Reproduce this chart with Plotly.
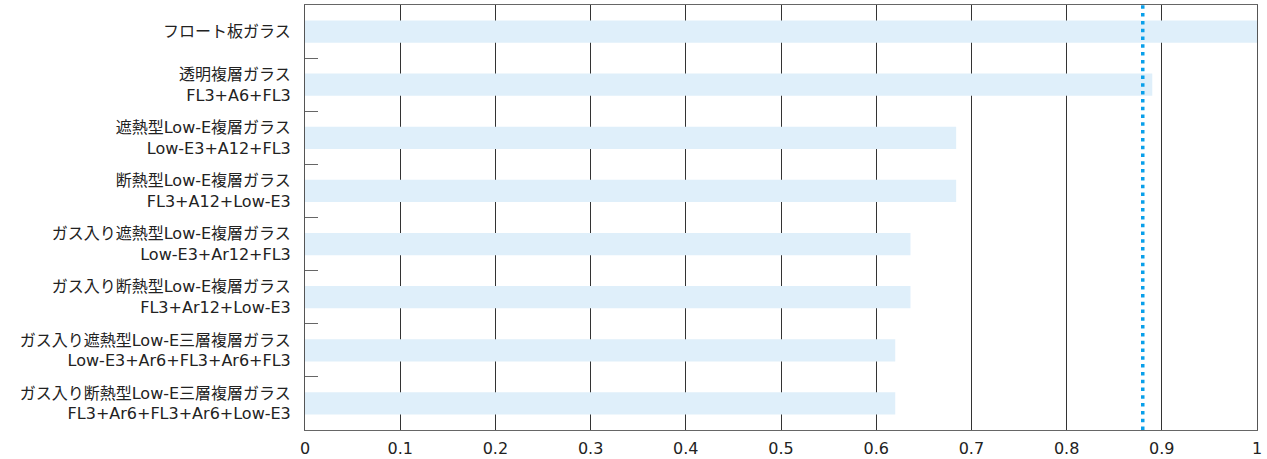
import plotly.graph_objects as go

categories = [
    "フロート板ガラス",
    "透明複層ガラス<br>FL3+A6+FL3",
    "遮熱型Low-E複層ガラス<br>Low-E3+A12+FL3",
    "断熱型Low-E複層ガラス<br>FL3+A12+Low-E3",
    "ガス入り遮熱型Low-E複層ガラス<br>Low-E3+Ar12+FL3",
    "ガス入り断熱型Low-E複層ガラス<br>FL3+Ar12+Low-E3",
    "ガス入り遮熱型Low-E三層複層ガラス<br>Low-E3+Ar6+FL3+Ar6+FL3",
    "ガス入り断熱型Low-E三層複層ガラス<br>FL3+Ar6+FL3+Ar6+Low-E3",
]
values = [1.0, 0.89, 0.684, 0.684, 0.636, 0.636, 0.62, 0.62]
reference_value = 0.88
x_ticks = [0, 0.1, 0.2, 0.3, 0.4, 0.5, 0.6, 0.7, 0.8, 0.9, 1]
x_tick_labels = ["0", "0.1", "0.2", "0.3", "0.4", "0.5", "0.6", "0.7", "0.8", "0.9", "1"]

fig = go.Figure()
fig.add_trace(go.Bar(
    x=values, y=categories, orientation="h",
    marker=dict(color="#dfeffa", line=dict(width=0)),
    hoverinfo="x+y",
))
fig.add_shape(type="line", xref="x", yref="paper",
              x0=reference_value, x1=reference_value, y0=0, y1=1,
              line=dict(color="#0aa0ea", width=3.5, dash="3.5px,4.3px"))

fig.update_layout(
    width=1267, height=459,
    margin=dict(l=305, r=10, t=5, b=29),
    paper_bgcolor="white", plot_bgcolor="white",
    font=dict(family="DejaVu Sans, Noto Sans CJK JP, sans-serif", size=16, color="#222"),
    bargap=0.58,
    showlegend=False,
)
fig.update_xaxes(
    range=[0, 1], tickvals=x_ticks, ticktext=x_tick_labels,
    showgrid=True, gridcolor="#333", gridwidth=1,
    showline=True, linecolor="#666", linewidth=1, mirror=True,
    ticks="", zeroline=False, tickfont=dict(size=16), automargin=False,
    ticklabelstandoff=4,
)
fig.update_yaxes(
    autorange="reversed", showgrid=False,
    showline=True, linecolor="#555", linewidth=1, mirror=True,
    ticks="inside", tickson="boundaries", ticklen=13, tickcolor="#666",
    tickfont=dict(size=16), ticklabelstandoff=10, automargin=False,
)
fig.write_html(
    "out.html",
    config={"displayModeBar": False},
    post_script="document.body.style.margin='0';document.body.style.overflow='hidden';",
)
